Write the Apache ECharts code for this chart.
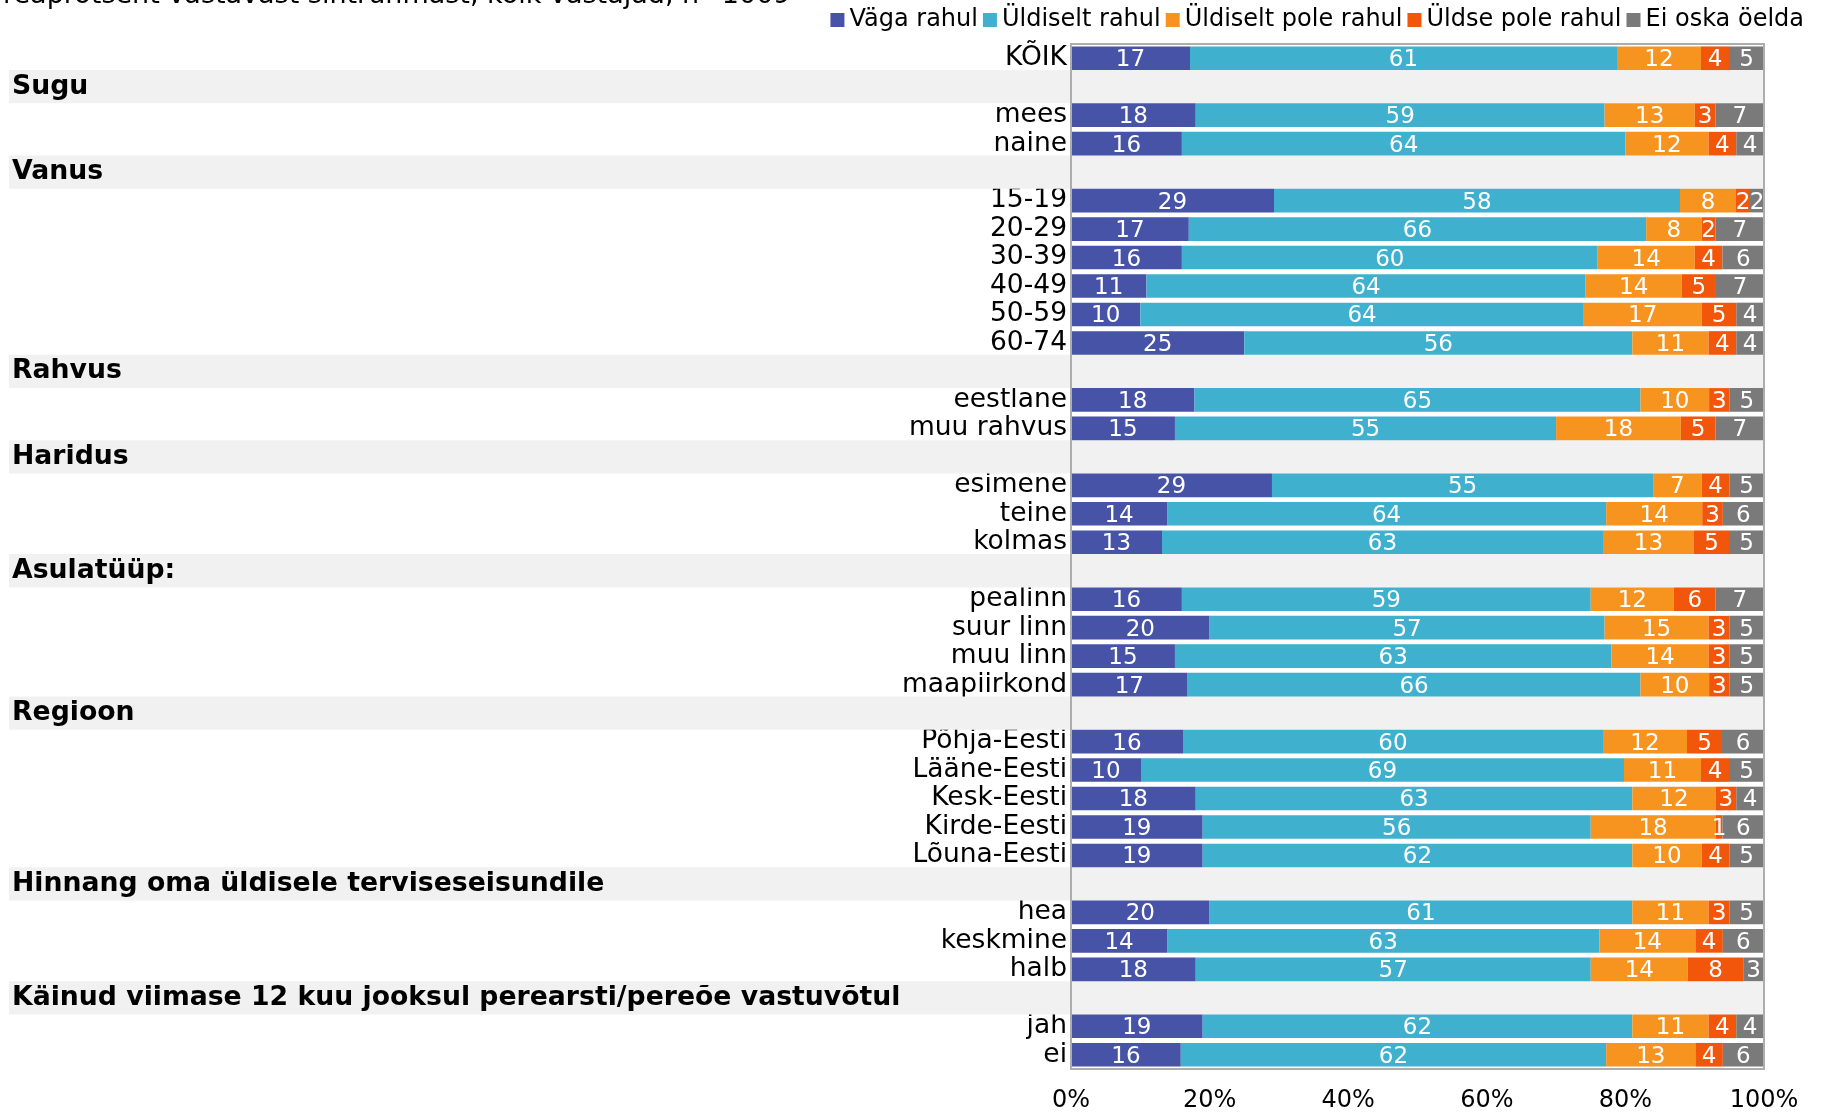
<!DOCTYPE html>
<html>
<head>
<meta charset="utf-8">
<script src="https://cdn.jsdelivr.net/npm/echarts@6/dist/echarts.min.js"></script>
<style>
html,body{margin:0;padding:0;background:#fff;}
#chart{width:1823px;height:1114px;}
</style>
</head>
<body>
<div id="chart"></div>
<script>
const titleText = 'reaprotsent vastavast sihtrühmast, kõik vastajad, n=1009';
const categories = ['KÕIK','Sugu','mees','naine','Vanus','15-19','20-29','30-39','40-49','50-59','60-74',
  'Rahvus','eestlane','muu rahvus','Haridus','esimene','teine','kolmas',
  'Asulatüüp:','pealinn','suur linn','muu linn','maapiirkond',
  'Regioon','Põhja-Eesti','Lääne-Eesti','Kesk-Eesti','Kirde-Eesti','Lõuna-Eesti',
  'Hinnang oma üldisele terviseseisundile','hea','keskmine','halb',
  'Käinud viimase 12 kuu jooksul perearsti/pereõe vastuvõtul','jah','ei'];
const headerRows = ['Sugu','Vanus','Rahvus','Haridus','Asulatüüp:','Regioon',
  'Hinnang oma üldisele terviseseisundile','Käinud viimase 12 kuu jooksul perearsti/pereõe vastuvõtul'];
const seriesNames = ['Väga rahul','Üldiselt rahul','Üldiselt pole rahul','Üldse pole rahul','Ei oska öelda'];
const vagaRahul      = [17,null,18,16,null,29,17,16,11,10,25,null,18,15,null,29,14,13,null,16,20,15,17,null,16,10,18,19,19,null,20,14,18,null,19,16];
const uldiseltRahul  = [61,null,59,64,null,58,66,60,64,64,56,null,65,55,null,55,64,63,null,59,57,63,66,null,60,69,63,56,62,null,61,63,57,null,62,62];
const uldiseltPole   = [12,null,13,12,null,8,8,14,14,17,11,null,10,18,null,7,14,13,null,12,15,14,10,null,12,11,12,18,10,null,11,14,14,null,11,13];
const uldsePole      = [4,null,3,4,null,2,2,4,5,5,4,null,3,5,null,4,3,5,null,6,3,3,3,null,5,4,3,1,4,null,3,4,8,null,4,4];
const eiOska         = [5,null,7,4,null,2,7,6,7,4,4,null,5,7,null,5,6,5,null,7,5,5,5,null,6,5,4,6,5,null,5,6,3,null,4,6];
const tickValues = [0,20,40,60,80,100];
const colors = ['#4653A6','#3FB1CE','#F7931F','#F1560B','#7A7A7A'];

const allSeries = [vagaRahul, uldiseltRahul, uldiseltPole, uldsePole, eiOska];
const totals = categories.map((c,i)=> allSeries.reduce((s,a)=> s + (a[i]||0), 0));
const FONT = 'DejaVu Sans';

const chart = echarts.init(document.getElementById('chart'));
const barSeries = allSeries.map((arr,k)=>({
  name: seriesNames[k],
  type: 'bar',
  stack: 'total',
  xAxisIndex: 0, yAxisIndex: 0,
  barCategoryGap: '17%',
  z: 3,
  itemStyle: {color: colors[k]},
  label: {
    show: true, position: 'inside', color: '#fff', fontSize: 23, fontFamily: FONT,
    offset: [0, 2],
    formatter: p => p.data && p.data.raw != null ? String(p.data.raw) : ''
  },
  data: arr.map((v,i)=> v == null ? '-' : {value: v / totals[i] * 100, raw: v})
}));

const option = {
  animation: false,
  color: colors,
  title: {
    text: titleText, left: -2, top: -23,
    textStyle: {fontSize: 27, fontWeight: 'normal', color: '#000', fontFamily: FONT}
  },
  legend: {
    data: seriesNames, right: 19, top: 8, icon: 'rect', itemWidth: 14, itemHeight: 14, itemGap: 5, padding: 0,
    textStyle: {fontSize: 24, color: '#000', fontFamily: FONT}
  },
  grid: [
    {left: 1071, right: 59, top: 44, bottom: 45, show: true, borderColor: '#ADADAD', borderWidth: 2, backgroundColor: 'transparent', z: 10},
    {left: 9, right: 59, top: 44, bottom: 45, show: false}
  ],
  xAxis: [
    {gridIndex: 0, type: 'value', min: 0, max: 100, interval: 20,
      axisLine: {show: false}, axisTick: {show: false}, splitLine: {show: false},
      axisLabel: {fontSize: 24, color: '#000', fontFamily: FONT, margin: 20,
        formatter: v => tickValues.includes(v) ? v + '%' : ''}},
    {gridIndex: 1, type: 'value', min: 0, max: 1, show: false}
  ],
  yAxis: [
    {gridIndex: 0, type: 'category', data: categories, inverse: true,
      axisLine: {show: false}, axisTick: {show: false}, splitLine: {show: false},
      axisLabel: {fontSize: 26.5, color: '#000', fontFamily: FONT, margin: 4, interval: 0,
        padding: [0, 0, 3, 0],
        formatter: v => headerRows.includes(v) ? '' : v}},
    {gridIndex: 1, type: 'category', data: categories, inverse: true, show: false}
  ],
  series: [
    {
      name: 'bg', type: 'bar', xAxisIndex: 1, yAxisIndex: 1, barWidth: 33.3, z: 1,
      silent: true,
      itemStyle: {color: '#F1F1F1'},
      label: {show: true, position: 'insideLeft', distance: 3, color: '#000', fontSize: 26.7, fontWeight: 'bold', fontFamily: FONT,
        formatter: p => p.name},
      data: categories.map(c => headerRows.includes(c) ? 1 : '-')
    },
    ...barSeries
  ]
};
chart.setOption(option);
</script>
</body>
</html>
